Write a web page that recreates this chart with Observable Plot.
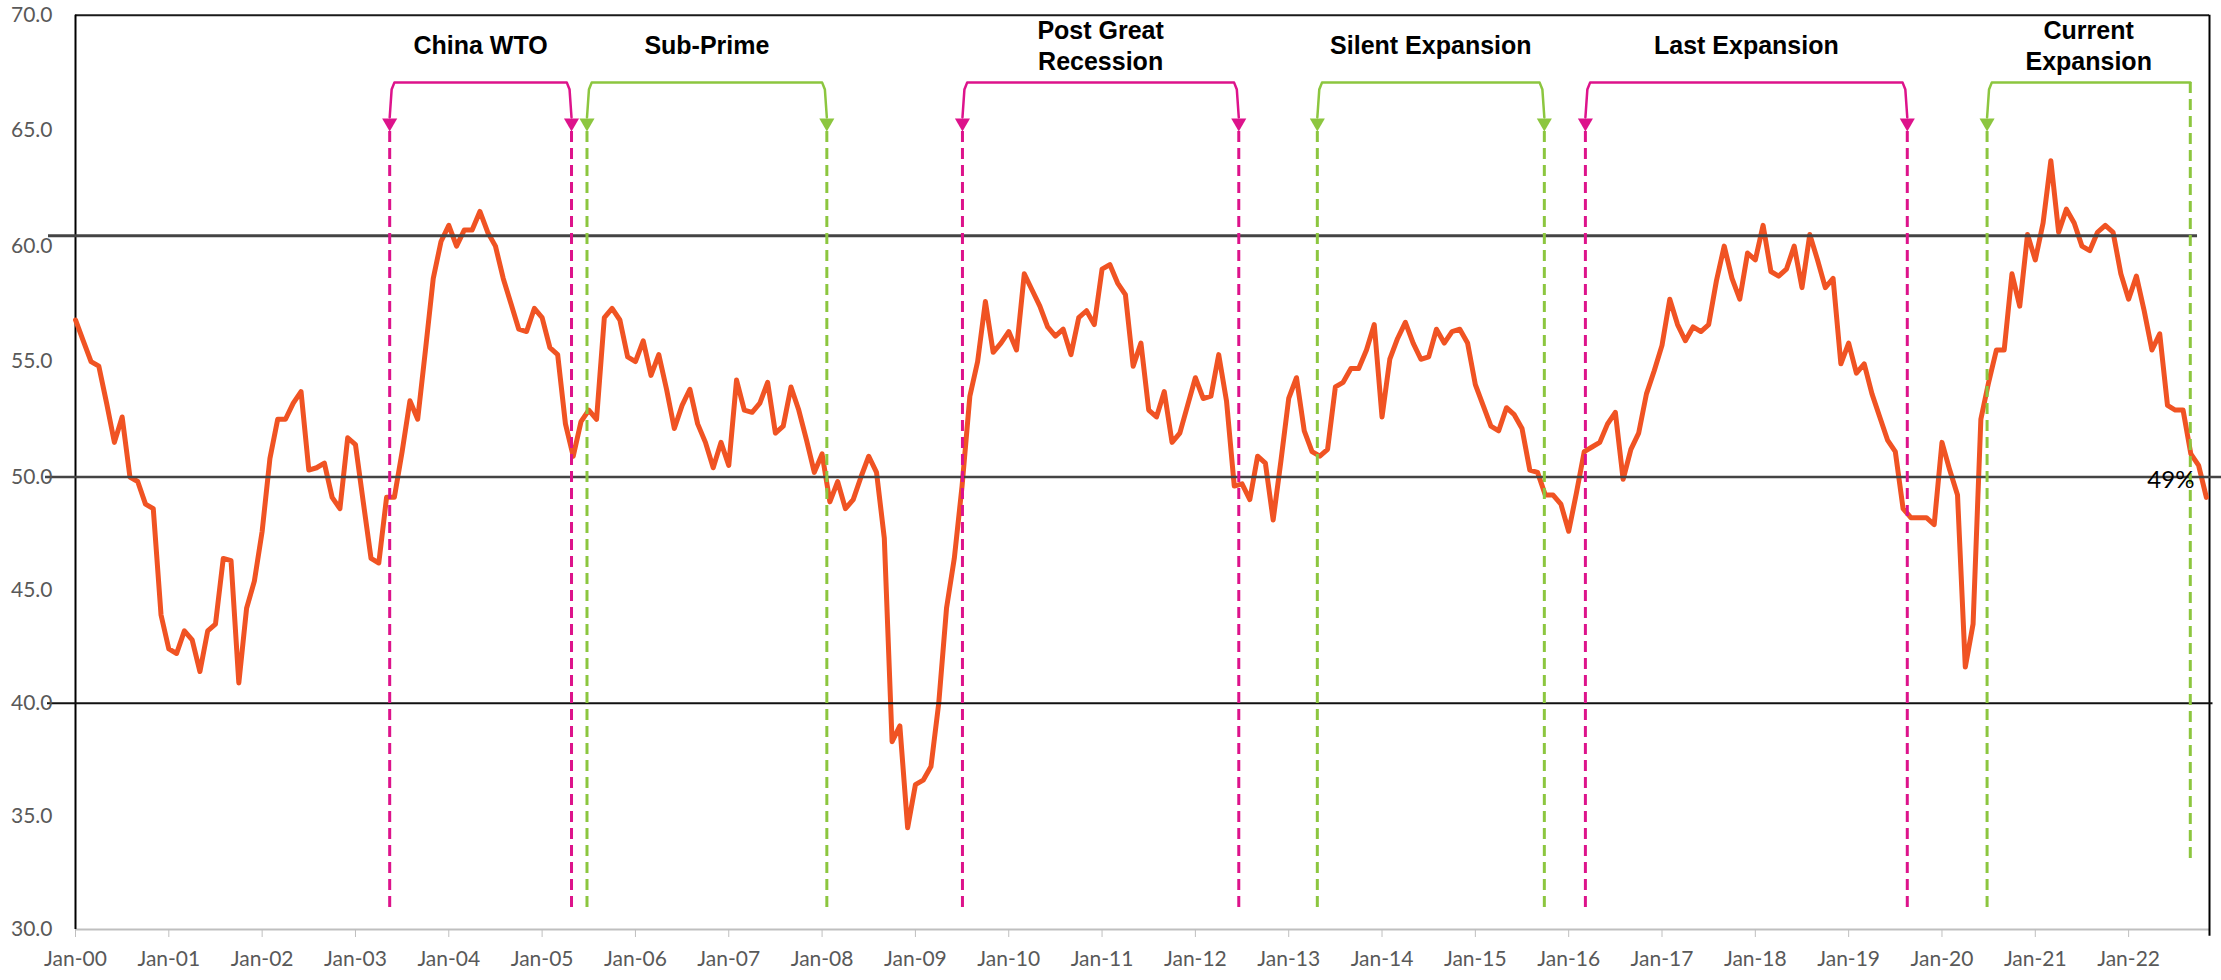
<!DOCTYPE html>
<html>
<head>
<meta charset="utf-8">
<script src="https://cdn.jsdelivr.net/npm/d3@7"></script>
<script src="https://cdn.jsdelivr.net/npm/@observablehq/plot@0.6"></script>
<style>
  html, body { margin: 0; padding: 0; background: #ffffff; }
  #chart svg { display: block; max-width: none; }
</style>
</head>
<body>
<div id="chart"></div>
<script>
// ---------------- DATA ----------------
// Monthly index values, Jan-2000 .. Nov-2022 (index 0 = Jan-2000)
const pmi = [
  // 2000
  56.8, 55.9, 55.0, 54.8, 53.2, 51.5, 52.6, 50.0, 49.8, 48.8, 48.6, 43.9,
  // 2001
  42.4, 42.2, 43.2, 42.8, 41.4, 43.2, 43.5, 46.4, 46.3, 40.9, 44.2, 45.4,
  // 2002
  47.6, 50.8, 52.5, 52.5, 53.2, 53.7, 50.3, 50.4, 50.6, 49.1, 48.6, 51.7,
  // 2003
  51.4, 48.9, 46.4, 46.2, 49.1, 49.1, 51.1, 53.3, 52.5, 55.5, 58.6, 60.2,
  // 2004
  60.9, 60.0, 60.7, 60.7, 61.5, 60.6, 60.0, 58.6, 57.5, 56.4, 56.3, 57.3,
  // 2005
  56.9, 55.6, 55.3, 52.3, 50.9, 52.4, 52.9, 52.5, 56.9, 57.3, 56.8, 55.2,
  // 2006
  55.0, 55.9, 54.4, 55.3, 53.8, 52.1, 53.1, 53.8, 52.3, 51.5, 50.4, 51.5,
  // 2007
  50.5, 54.2, 52.9, 52.8, 53.2, 54.1, 51.9, 52.2, 53.9, 52.9, 51.6, 50.2,
  // 2008
  51.0, 48.9, 49.8, 48.6, 49.0, 50.0, 50.9, 50.2, 47.3, 38.3, 39.0, 34.5,
  // 2009
  36.4, 36.6, 37.2, 40.0, 44.2, 46.4, 49.6, 53.5, 55.0, 57.6, 55.4, 55.8,
  // 2010
  56.3, 55.5, 58.8, 58.1, 57.4, 56.5, 56.1, 56.4, 55.3, 56.9, 57.2, 56.6,
  // 2011
  59.0, 59.2, 58.4, 57.9, 54.8, 55.8, 52.9, 52.6, 53.7, 51.5, 51.9, 53.1,
  // 2012
  54.3, 53.4, 53.5, 55.3, 53.3, 49.6, 49.7, 49.0, 50.9, 50.6, 48.1, 50.7,
  // 2013
  53.4, 54.3, 52.0, 51.1, 50.9, 51.2, 53.9, 54.1, 54.7, 54.7, 55.5, 56.6,
  // 2014
  52.6, 55.1, 56.0, 56.7, 55.8, 55.1, 55.2, 56.4, 55.8, 56.3, 56.4, 55.8,
  // 2015
  54.0, 53.1, 52.2, 52.0, 53.0, 52.7, 52.1, 50.3, 50.2, 49.2, 49.2, 48.8,
  // 2016
  47.6, 49.3, 51.1, 51.3, 51.5, 52.3, 52.8, 49.9, 51.2, 51.9, 53.6, 54.6,
  // 2017
  55.7, 57.7, 56.6, 55.9, 56.5, 56.3, 56.6, 58.5, 60.0, 58.6, 57.7, 59.7,
  // 2018
  59.4, 60.9, 58.9, 58.7, 59.0, 60.0, 58.2, 60.5, 59.4, 58.2, 58.6, 54.9,
  // 2019
  55.8, 54.5, 54.9, 53.6, 52.6, 51.6, 51.1, 48.6, 48.2, 48.2, 48.2, 47.9,
  // 2020
  51.5, 50.3, 49.2, 41.6, 43.5, 52.5, 54.1, 55.5, 55.5, 58.8, 57.4, 60.5,
  // 2021
  59.4, 61.0, 63.7, 60.6, 61.6, 61.0, 60.0, 59.8, 60.6, 60.9, 60.6, 58.8,
  // 2022
  57.7, 58.7, 57.2, 55.5, 56.2, 53.1, 52.9, 52.9, 51.0, 50.5, 49.1
];

const xTickLabels = ["Jan-00","Jan-01","Jan-02","Jan-03","Jan-04","Jan-05","Jan-06","Jan-07",
  "Jan-08","Jan-09","Jan-10","Jan-11","Jan-12","Jan-13","Jan-14","Jan-15","Jan-16","Jan-17",
  "Jan-18","Jan-19","Jan-20","Jan-21","Jan-22"];
const yTicks = [30, 35, 40, 45, 50, 55, 60, 65, 70];

// horizontal reference levels drawn across the chart
const refLevels = [40, 50, 60.45];

// periods (month index, fractional)
const periodNames  = ["China WTO", "Sub-Prime", "Post Great\nRecession", "Silent Expansion", "Last Expansion", "Current\nExpansion"];
const periodStarts = [40.40, 65.77, 114.05, 159.68, 194.15, 245.80];
const periodEnds   = [63.78, 96.61, 149.58, 188.87, 235.54, 271.93];
const periodOpen   = [false, false, false, false, false, true];

// ---------------- STYLE / LAYOUT ----------------
const W = 2221, H = 980;
const X_END = 274.4;
const LINE_COLOR = "#f05323";
const MAGENTA = "#dd138b";
const GREEN = "#8cc63f";
const BRACKET_TOP = 67.08, ARROW_BASE = 65.57, ARROW_CENTER = 65.34, DASH_TOP = 64.96;
const DASH_BOTTOM = 30.93, OPEN_BOTTOM = 33.05, LABEL_Y = 68.73;
const labelFont = "'Liberation Sans', Arial, Helvetica, sans-serif";

const periods = periodNames.map((name, i) => ({
  name, start: periodStarts[i], end: periodEnds[i], open: periodOpen[i],
  color: i % 2 === 0 ? MAGENTA : GREEN
}));

const bracketPts = periods.flatMap((p, i) => {
  const pts = [
    {x: p.start, y: ARROW_BASE},
    {x: p.start + 0.25, y: BRACKET_TOP - 0.3},
    {x: p.start + 0.6, y: BRACKET_TOP}
  ];
  if (p.open) {
    pts.push({x: p.end, y: BRACKET_TOP});
  } else {
    pts.push({x: p.end - 0.6, y: BRACKET_TOP},
             {x: p.end - 0.25, y: BRACKET_TOP - 0.3},
             {x: p.end, y: ARROW_BASE});
  }
  return pts.map(d => ({...d, id: i, color: p.color}));
});

const arrows = periods.flatMap(p => p.open
  ? [{x: p.start, color: p.color}]
  : [{x: p.start, color: p.color}, {x: p.end, color: p.color}]);

const dashes = periods.flatMap(p => [
  {x: p.start, y1: DASH_TOP, y2: DASH_BOTTOM, color: p.color},
  {x: p.end, y1: p.open ? BRACKET_TOP : DASH_TOP, y2: p.open ? OPEN_BOTTOM : DASH_BOTTOM, color: p.color}
]);

const labels = periods.map(p => ({x: (p.start + p.end) / 2, text: p.name}));

const refRules = [
  {y: refLevels[0], x1: -3.6,  x2: 274.85, stroke: "#111111", w: 2},
  {y: refLevels[1], x1: -3.86, x2: 275.95, stroke: "#444444", w: 2.5},
  {y: refLevels[2], x1: -3.47, x2: 272.86, stroke: "#444444", w: 3}
];

const last = pmi.length - 1;

const chart = Plot.plot({
  width: W,
  height: H,
  marginLeft: 75,
  marginRight: W - 2209,
  marginTop: 14.7,
  marginBottom: H - 929,
  style: {fontFamily: "Lato, 'Open Sans', sans-serif", background: "#ffffff", overflow: "visible"},
  x: {type: "linear", domain: [0, X_END], range: [75, 2209]},
  y: {type: "linear", domain: [30, 50, 70], range: [929, 476.5, 14.7]},
  color: {type: "identity"},
  marks: [
    // frame
    Plot.ruleY([30], {x1: 0, x2: X_END, stroke: "#bfbfbf", strokeWidth: 2}),
    Plot.ruleY([70], {x1: 0, x2: X_END, stroke: "#1a1a1a", strokeWidth: 2}),
    Plot.ruleX([0], {y1: 30, y2: 70, stroke: "#000000", strokeWidth: 2}),
    Plot.ruleX([X_END], {y1: 29.7, y2: 70, stroke: "#000000", strokeWidth: 2}),
    // series
    Plot.line(pmi, {x: (d, i) => i, y: d => d, stroke: LINE_COLOR, strokeWidth: 5,
      strokeLinejoin: "round", strokeLinecap: "round"}),
    // reference levels
    ...refRules.map(r => Plot.ruleY([r], {y: "y", x1: "x1", x2: "x2", stroke: r.stroke, strokeWidth: r.w})),
    // dashed period markers
    Plot.ruleX(dashes, {x: "x", y1: "y1", y2: "y2", stroke: "color", strokeWidth: 3, strokeDasharray: "11,6"}),
    // brackets
    Plot.line(bracketPts, {x: "x", y: "y", z: "id", stroke: "color", strokeWidth: 2.5, strokeLinejoin: "round"}),
    Plot.dot(arrows, {x: "x", y: () => ARROW_CENTER, symbol: "triangle", rotate: 180, r: 5.6, fill: "color", stroke: null}),
    // period labels
    Plot.text(labels, {x: "x", y: () => LABEL_Y, text: "text", fontSize: 25, fontWeight: "bold",
      fontFamily: labelFont, fill: "#000000", lineHeight: 1.24, lineAnchor: "middle"}),
    // last value label
    Plot.text([last], {x: d => d, y: d => pmi[d], text: d => Math.round(pmi[d]) + "%",
      textAnchor: "end", dx: -12, dy: -17, fontSize: 24, fill: "#000000"}),
    // axes
    Plot.axisY({ticks: yTicks, tickSize: 0, tickPadding: 23, tickFormat: d => d.toFixed(1),
      fontSize: 21, fill: "#595959", label: null}),
    Plot.axisX({ticks: xTickLabels.map((_, i) => i * 12), tickFormat: d => xTickLabels[d / 12],
      tickSize: 8, tickPadding: 14, fontSize: 21, stroke: "#bfbfbf", fill: "#595959", label: null})
  ]
});

document.getElementById("chart").appendChild(chart);
</script>
</body>
</html>
